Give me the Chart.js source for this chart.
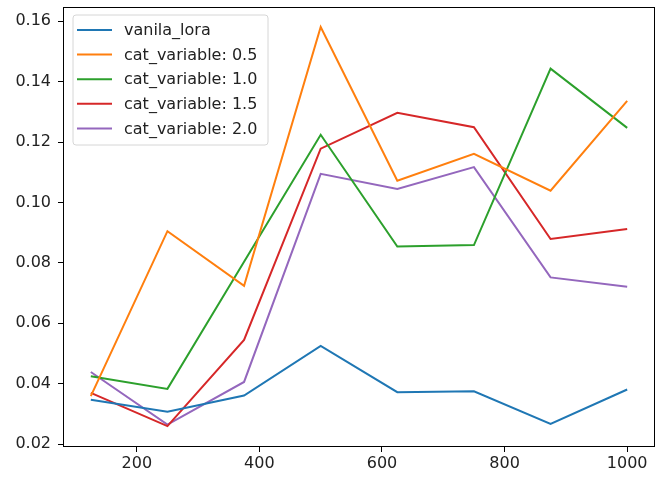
<!DOCTYPE html>
<html>
  <head>
    <title>cat_variable chart</title>
    <script src="https://cdn.jsdelivr.net/npm/chart.js"></script>
    <style>
      html, body { margin: 0; padding: 0; background: #fff; }
      .chartframe { width: 658px; height: 478px; }
    </style>
  </head>
  <body>
    <div class="chartframe">
      <canvas id="myChart" width="658" height="478"></canvas>
    </div>
  </body>
</html>
<script>
//------------------------------------------------------------------------------
// data
//------------------------------------------------------------------------------
var steps = [125, 250, 375, 500, 625, 750, 875, 1000];

var vanilaLora = [0.0347, 0.0307, 0.0361, 0.0525, 0.0372, 0.0375, 0.0267, 0.0381];
var cat05      = [0.0359, 0.0905, 0.0724, 0.1581, 0.1072, 0.1161, 0.1039, 0.1336];
var cat10      = [0.0425, 0.0383, 0.0804, 0.1224, 0.0854, 0.0859, 0.1443, 0.1247];
var cat15      = [0.0370, 0.0260, 0.0545, 0.1178, 0.1297, 0.1249, 0.0879, 0.0912];
var cat20      = [0.0439, 0.0265, 0.0406, 0.1095, 0.1045, 0.1117, 0.0752, 0.0721];

var seriesNames = ['vanila_lora', 'cat_variable: 0.5', 'cat_variable: 1.0', 'cat_variable: 1.5', 'cat_variable: 2.0'];
var seriesColors = ['#1f77b4', '#ff7f0e', '#2ca02c', '#d62728', '#9467bd'];

var xTicks = [200, 400, 600, 800, 1000];
var yTicks = [0.02, 0.04, 0.06, 0.08, 0.10, 0.12, 0.14, 0.16];

//------------------------------------------------------------------------------
// axis limits like matplotlib (5% margins)
//------------------------------------------------------------------------------
var allY = [].concat(vanilaLora, cat05, cat10, cat15, cat20);
var yMinData = Math.min.apply(null, allY);
var yMaxData = Math.max.apply(null, allY);
var yPad = (yMaxData - yMinData) * 0.05;
var xPad = (steps[steps.length - 1] - steps[0]) * 0.05;

function toPoints(values) {
  return values.map(function (v, i) { return { x: steps[i], y: v }; });
}

var allSeries = [vanilaLora, cat05, cat10, cat15, cat20];
var datasets = allSeries.map(function (s, i) {
  return {
    label: seriesNames[i],
    data: toPoints(s),
    borderColor: seriesColors[i],
    backgroundColor: seriesColors[i],
    borderWidth: 2,
    pointRadius: 0,
    tension: 0,
    fill: false
  };
});

function noPadding(scale) {
  scale.paddingTop = 0;
  scale.paddingBottom = 0;
  scale.paddingLeft = 0;
  scale.paddingRight = 0;
}

//------------------------------------------------------------------------------
// frame + legend (matplotlib style)
//------------------------------------------------------------------------------
var frameLegend = {
  id: 'frameLegend',
  afterDraw: function (chart) {
    var ctx = chart.ctx;
    var a = chart.chartArea;
    ctx.save();
    ctx.strokeStyle = '#000';
    ctx.lineWidth = 1;
    ctx.strokeRect(Math.round(a.left) - 0.5, Math.round(a.top) + 0.5,
                   Math.round(a.right - a.left) + 1, Math.round(a.bottom - a.top));

    // legend box
    var bx = 73, by = 15, bw = 195, bh = 130, r = 3;
    ctx.beginPath();
    ctx.moveTo(bx + r, by);
    ctx.lineTo(bx + bw - r, by);
    ctx.quadraticCurveTo(bx + bw, by, bx + bw, by + r);
    ctx.lineTo(bx + bw, by + bh - r);
    ctx.quadraticCurveTo(bx + bw, by + bh, bx + bw - r, by + bh);
    ctx.lineTo(bx + r, by + bh);
    ctx.quadraticCurveTo(bx, by + bh, bx, by + bh - r);
    ctx.lineTo(bx, by + r);
    ctx.quadraticCurveTo(bx, by, bx + r, by);
    ctx.closePath();
    ctx.fillStyle = 'rgba(255,255,255,0.8)';
    ctx.fill();
    ctx.strokeStyle = '#d6d6d6';
    ctx.stroke();

    ctx.font = '16px "DejaVu Sans"';
    ctx.textBaseline = 'middle';
    ctx.textAlign = 'left';
    chart.data.datasets.forEach(function (ds, i) {
      var cy = 30 + i * 24.6;
      ctx.strokeStyle = ds.borderColor;
      ctx.lineWidth = 2;
      ctx.beginPath();
      ctx.moveTo(77, cy);
      ctx.lineTo(112, cy);
      ctx.stroke();
      ctx.fillStyle = '#222';
      ctx.fillText(ds.label, 124, cy + 1);
    });
    ctx.restore();
  }
};

//------------------------------------------------------------------------------
// chart
//------------------------------------------------------------------------------
var ctx = document.getElementById('myChart').getContext('2d');
var chart = new Chart(ctx, {
  type: 'line',
  data: { datasets: datasets },
  options: {
    responsive: false,
    animation: false,
    layout: { padding: { top: 7, right: 4, left: 0, bottom: 0 } },
    plugins: {
      legend: { display: false },
      tooltip: { enabled: false }
    },
    scales: {
      x: {
        type: 'linear',
        min: steps[0] - xPad,
        max: steps[steps.length - 1] + xPad,
        afterBuildTicks: function (scale) {
          scale.ticks = xTicks.map(function (v) { return { value: v }; });
        },
        afterFit: function (scale) { scale.height = 32; noPadding(scale); },
        grid: { drawOnChartArea: false, drawTicks: true, tickLength: 6, color: '#000', tickWidth: 1 },
        border: { display: false },
        ticks: {
          padding: 2,
          color: '#222',
          font: { family: 'DejaVu Sans', size: 16 },
          maxRotation: 0,
          callback: function (v) { return String(v); }
        }
      },
      y: {
        type: 'linear',
        min: yMinData - yPad,
        max: yMaxData + yPad,
        afterBuildTicks: function (scale) {
          scale.ticks = yTicks.map(function (v) { return { value: v }; });
        },
        afterFit: function (scale) { scale.width = 64; noPadding(scale); },
        grid: { drawOnChartArea: false, drawTicks: true, tickLength: 6, color: '#000', tickWidth: 1 },
        border: { display: false },
        ticks: {
          padding: 7,
          color: '#222',
          font: { family: 'DejaVu Sans', size: 16 },
          callback: function (v) { return v.toFixed(2); }
        }
      }
    }
  },
  plugins: [frameLegend]
});
</script>
